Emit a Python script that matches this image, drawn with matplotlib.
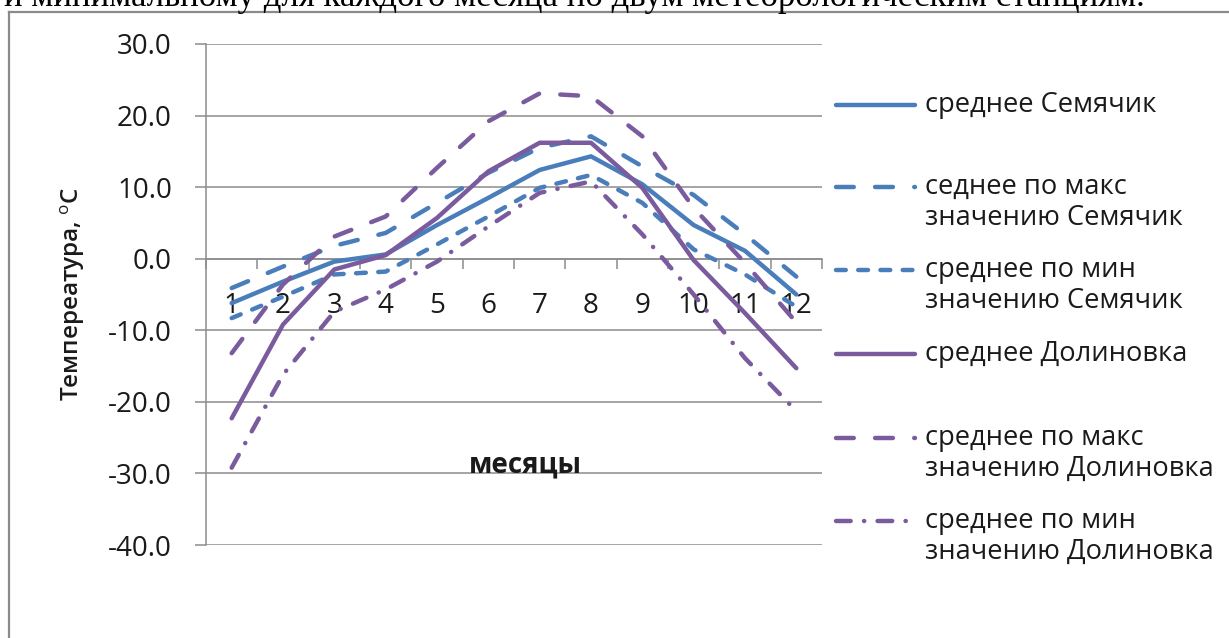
import matplotlib
matplotlib.use("Agg")
import matplotlib.pyplot as plt
from matplotlib.lines import Line2D
from matplotlib.ticker import FixedLocator, FixedFormatter, NullFormatter

# Monthly mean temperatures, °C
months = list(range(1, 13))
month_labels = [str(m) for m in months]

sem_mean = [-6.2, -3.2, -0.4, 0.6, 4.7, 8.5, 12.4, 14.3, 10.4, 4.7, 1.1, -5.0]
sem_max = [-4.1, -1.1, 1.8, 3.6, 7.8, 12.0, 15.5, 17.1, 12.9, 8.9, 3.4, -2.5]
sem_min = [-8.3, -5.3, -2.2, -1.8, 2.0, 5.9, 9.9, 11.7, 7.8, 1.3, -2.2, -6.7]
dol_mean = [-22.3, -9.2, -1.5, 0.5, 5.7, 12.2, 16.2, 16.2, 9.9, -0.2, -7.6, -15.3]
dol_max = [-13.2, -3.6, 3.1, 5.9, 12.7, 19.2, 23.1, 22.7, 17.1, 7.1, -0.6, -8.9]
dol_min = [-29.2, -16.2, -7.4, -4.3, -0.4, 4.5, 9.2, 10.8, 3.4, -5.0, -13.9, -21.3]

series_labels = [
    "среднее Семячик",
    "седнее по макс\nзначению Семячик",
    "среднее по мин\nзначению Семячик",
    "среднее Долиновка",
    "среднее по макс\nзначению Долиновка",
    "среднее по мин\nзначению Долиновка",
]

y_ticks = [-40, -30, -20, -10, 0, 10, 20, 30]
y_tick_labels = [f"{v:.1f}" for v in y_ticks]

heading = "и минимальному для каждого месяца по двум метеорологическим станциям."

# ---- styling ----
W, H = 1229, 638
BLUE = "#4A7EBB"
PURPLE = "#7A5C9E"
GRID = "#8C8C8C"
LW = 3.2
FONT = "Open Sans"

solid = "-"
long_dash = (0, (4.0, 4.8))
short_dash = (0, (2.2, 2.8))
dash_dot = (0, (3.3, 3.0, 0.05, 3.0))

styles = [
    (sem_mean, BLUE, solid),
    (sem_max, BLUE, long_dash),
    (sem_min, BLUE, short_dash),
    (dol_mean, PURPLE, solid),
    (dol_max, PURPLE, long_dash),
    (dol_min, PURPLE, dash_dot),
]

plt.rcParams["font.family"] = [FONT, "DejaVu Sans"]
plt.rcParams["mathtext.fontset"] = "custom"
plt.rcParams["mathtext.rm"] = FONT
plt.rcParams["mathtext.bf"] = FONT + ":bold"


def fx(px):
    return px / W


def fy(py):
    return 1 - py / H


fig = plt.figure(figsize=(W / 100, H / 100), dpi=100)
fig.patch.set_facecolor("white")

ax = fig.add_axes([fx(206), fy(545), fx(822) - fx(206), fy(44) - fy(545)])
ax.set_xlim(0.5, 12.5)
ax.set_ylim(-40, 30)

for vals, col, ls in styles:
    ax.plot(months, vals, color=col, lw=LW, linestyle=ls,
            solid_capstyle="round", dash_capstyle="round",
            solid_joinstyle="round", zorder=3)

# y axis
ax.yaxis.set_major_locator(FixedLocator(y_ticks))
ax.yaxis.set_major_formatter(FixedFormatter(y_tick_labels))
ax.tick_params(axis="y", length=8, width=1.1, color=GRID, pad=16.5,
               labelsize=20, labelcolor="#1a1a1a")
ax.yaxis.grid(True, color=GRID, lw=1.1, zorder=0)

# x axis crossing at zero
ax.spines["bottom"].set_position(("data", 0))
ax.spines["bottom"].set_color(GRID)
ax.spines["bottom"].set_linewidth(1.1)
ax.spines["left"].set_color(GRID)
ax.spines["left"].set_linewidth(1.1)
ax.spines["top"].set_visible(False)
ax.spines["right"].set_visible(False)

ax.xaxis.set_major_locator(FixedLocator([m + 0.5 for m in [0] + months]))
ax.xaxis.set_major_formatter(NullFormatter())
ax.xaxis.set_minor_locator(FixedLocator(months))
ax.xaxis.set_minor_formatter(FixedFormatter(month_labels))
ax.tick_params(axis="x", which="major", direction="out", length=7,
               width=1.1, color=GRID)
ax.tick_params(axis="x", which="minor", length=0, pad=24,
               labelsize=20, labelcolor="#1a1a1a")
ax.set_axisbelow(True)

# axis titles
fig.text(fx(525), fy(465), "месяцы", ha="center", va="center",
         fontsize=20, fontweight="bold", color="#1a1a1a")
fig.text(fx(73), fy(294), r"Темпереатура, $^{\mathrm{o}}$С", rotation=90,
         ha="center", va="center", fontsize=17.5, fontweight="semibold",
         color="#1a1a1a")

# legend
entry_y = [105, 187, 270, 354, 438, 521]
for (vals, col, ls), lab, y in zip(styles, series_labels, entry_y):
    fig.add_artist(Line2D([fx(836), fx(915)], [fy(y), fy(y)], color=col,
                          lw=LW, linestyle=ls, solid_capstyle="round",
                          dash_capstyle="round"))
    for k, line in enumerate(lab.split("\n")):
        fig.text(fx(925), fy(y + 31 * k), line, ha="left", va="center",
                 fontsize=19.6, color="#1a1a1a")

# outer frame
fig.add_artist(Line2D([fx(9), fx(9)], [fy(12), fy(H + 5)], color="#8A8A8A", lw=1.6))
fig.add_artist(Line2D([fx(9), fx(W + 5)], [fy(12), fy(12)], color="#8A8A8A", lw=1.6))

# running text above the chart
fig.text(fx(4), fy(6), heading, ha="left", va="baseline", fontsize=25,
         family="Liberation Serif", color="black")

fig.savefig("out.png", dpi=100, facecolor="white")
